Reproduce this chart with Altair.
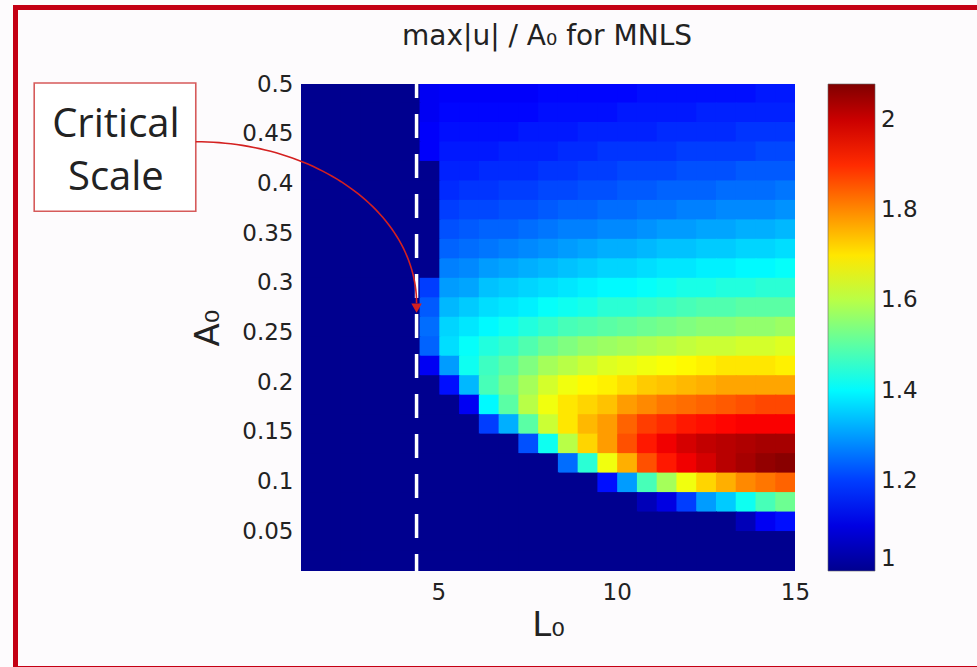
import altair as alt
import pandas as pd
import numpy as np

# ---------------- data ----------------
# cell edges of the heat map
L0_edges = [1.15, 1.704, 2.258, 2.812, 3.366, 3.92, 4.474, 5.028, 5.582, 6.136,
            6.69, 7.244, 7.798, 8.352, 8.906, 9.46, 10.014, 10.568, 11.122, 11.676,
            12.23, 12.784, 13.338, 13.892, 14.446, 15.0]
A0_edges = [0.5, 0.4804, 0.4608, 0.4412, 0.4216, 0.402, 0.3824, 0.3628, 0.3432, 0.3236,
            0.304, 0.2844, 0.2648, 0.2452, 0.2256, 0.206, 0.1864, 0.1668, 0.1472, 0.1276,
            0.108, 0.0884, 0.0688, 0.0492, 0.0296, 0.01]

# max|u|/A0, rows from top (A0 = 0.5) to bottom (A0 = 0.01); first 6 columns are 1
left = [1.0] * 6
values = [
    left + [1.12, 1.13, 1.13, 1.13, 1.13, 1.13, 1.14, 1.14, 1.14, 1.14, 1.14, 1.15, 1.15, 1.15, 1.15, 1.15, 1.15, 1.16, 1.16],
    left + [1.12, 1.14, 1.14, 1.14, 1.14, 1.14, 1.15, 1.15, 1.15, 1.15, 1.16, 1.16, 1.16, 1.16, 1.17, 1.17, 1.17, 1.17, 1.17],
    left + [1.13, 1.15, 1.15, 1.15, 1.15, 1.16, 1.16, 1.16, 1.17, 1.17, 1.17, 1.17, 1.18, 1.18, 1.18, 1.18, 1.19, 1.19, 1.19],
    left + [1.13, 1.16, 1.16, 1.16, 1.17, 1.17, 1.17, 1.18, 1.18, 1.19, 1.19, 1.19, 1.19, 1.20, 1.20, 1.20, 1.20, 1.21, 1.21],
    left + [1.00, 1.17, 1.17, 1.18, 1.18, 1.18, 1.19, 1.19, 1.20, 1.20, 1.21, 1.21, 1.21, 1.22, 1.22, 1.22, 1.23, 1.23, 1.23],
    left + [1.00, 1.18, 1.19, 1.19, 1.20, 1.20, 1.21, 1.21, 1.22, 1.22, 1.23, 1.23, 1.24, 1.24, 1.24, 1.25, 1.25, 1.25, 1.26],
    left + [1.00, 1.20, 1.21, 1.21, 1.22, 1.22, 1.23, 1.24, 1.24, 1.25, 1.25, 1.26, 1.26, 1.27, 1.27, 1.28, 1.28, 1.28, 1.29],
    left + [1.00, 1.22, 1.23, 1.24, 1.24, 1.25, 1.26, 1.27, 1.27, 1.28, 1.28, 1.29, 1.30, 1.30, 1.31, 1.31, 1.32, 1.32, 1.33],
    left + [1.00, 1.24, 1.25, 1.26, 1.27, 1.28, 1.29, 1.30, 1.31, 1.32, 1.32, 1.33, 1.34, 1.34, 1.35, 1.35, 1.36, 1.36, 1.37],
    left + [1.00, 1.27, 1.28, 1.30, 1.31, 1.32, 1.33, 1.34, 1.35, 1.36, 1.36, 1.37, 1.38, 1.38, 1.39, 1.39, 1.40, 1.40, 1.41],
    left + [1.20, 1.30, 1.31, 1.34, 1.35, 1.36, 1.37, 1.38, 1.39, 1.40, 1.40, 1.41, 1.42, 1.43, 1.43, 1.44, 1.44, 1.45, 1.45],
    left + [1.23, 1.33, 1.35, 1.37, 1.38, 1.39, 1.41, 1.42, 1.43, 1.45, 1.45, 1.46, 1.47, 1.48, 1.49, 1.49, 1.50, 1.50, 1.50],
    left + [1.25, 1.36, 1.38, 1.40, 1.42, 1.44, 1.46, 1.48, 1.49, 1.50, 1.51, 1.52, 1.53, 1.54, 1.55, 1.55, 1.56, 1.56, 1.57],
    left + [1.24, 1.37, 1.41, 1.44, 1.46, 1.49, 1.52, 1.54, 1.56, 1.57, 1.58, 1.59, 1.60, 1.61, 1.62, 1.62, 1.63, 1.63, 1.64],
    left + [1.12, 1.30, 1.42, 1.47, 1.50, 1.54, 1.58, 1.60, 1.62, 1.64, 1.65, 1.66, 1.67, 1.68, 1.69, 1.70, 1.70, 1.70, 1.69],
    left + [1.00, 1.15, 1.33, 1.48, 1.53, 1.58, 1.63, 1.66, 1.68, 1.69, 1.71, 1.73, 1.74, 1.75, 1.76, 1.77, 1.77, 1.77, 1.77],
    left + [1.00, 1.00, 1.12, 1.40, 1.50, 1.60, 1.66, 1.70, 1.72, 1.74, 1.78, 1.80, 1.82, 1.83, 1.84, 1.85, 1.86, 1.87, 1.87],
    left + [1.00, 1.00, 1.00, 1.20, 1.32, 1.50, 1.62, 1.70, 1.75, 1.78, 1.84, 1.88, 1.90, 1.92, 1.93, 1.94, 1.95, 1.95, 1.95],
    left + [1.00, 1.00, 1.00, 1.00, 1.00, 1.22, 1.42, 1.60, 1.72, 1.78, 1.86, 1.92, 1.96, 1.99, 2.01, 2.02, 2.03, 2.04, 2.04],
    left + [1.00, 1.00, 1.00, 1.00, 1.00, 1.00, 1.00, 1.25, 1.45, 1.66, 1.76, 1.86, 1.92, 1.96, 1.99, 2.02, 2.04, 2.06, 2.07],
    left + [1.00, 1.00, 1.00, 1.00, 1.00, 1.00, 1.00, 1.00, 1.00, 1.15, 1.30, 1.48, 1.58, 1.66, 1.72, 1.76, 1.80, 1.82, 1.84],
    left + [1.00, 1.00, 1.00, 1.00, 1.00, 1.00, 1.00, 1.00, 1.00, 1.00, 1.00, 1.05, 1.10, 1.20, 1.30, 1.35, 1.42, 1.48, 1.52],
    left + [1.00, 1.00, 1.00, 1.00, 1.00, 1.00, 1.00, 1.00, 1.00, 1.00, 1.00, 1.00, 1.00, 1.00, 1.00, 1.00, 1.05, 1.12, 1.15],
    left + [1.00] * 19,
    left + [1.00] * 19,
]

critical_L0 = 4.39
x_ticks = [5, 10, 15]
y_ticks = [0.05, 0.1, 0.15, 0.2, 0.25, 0.3, 0.35, 0.4, 0.45, 0.5]
cbar_ticks = [1, 1.2, 1.4, 1.6, 1.8, 2]
note_lines = ["Critical", "Scale"]
title_text = "max|u| / A₀ for MNLS"

# ---------------- tables ----------------
# each cell overlaps its right / upper neighbour by about a pixel so no seams show
ovx, ovy = 0.03, 0.001
n_cols = len(L0_edges) - 1
cells = []
for i, row in enumerate(values):
    for j, v in enumerate(row):
        cells.append({"x": L0_edges[j],
                      "x2": L0_edges[j + 1] + (ovx if j < n_cols - 1 else 0),
                      "y": A0_edges[i + 1],
                      "y2": A0_edges[i] + (ovy if i > 0 else 0), "v": v})
df = pd.DataFrame(cells)

FONT = "DejaVu Sans"
TXT = "#222222"

xscale = alt.Scale(domain=[1.15, 15], nice=False, zero=False)
yscale = alt.Scale(domain=[0.01, 0.5], nice=False, zero=False)
# MATLAB "jet"
cmin, cmax = 1.0, 2.08
span = cmax - cmin
jet_domain = [cmin, cmin + 0.125 * span, cmin + 0.375 * span, cmin + 0.625 * span,
              cmin + 0.875 * span, cmax]
jet_range = ["#00008f", "#0000ff", "#00ffff", "#ffff00", "#ff0000", "#800000"]
cscale = alt.Scale(domain=jet_domain, range=jet_range, interpolate="rgb")

heat = alt.Chart(df).mark_rect().encode(
    x=alt.X("x:Q", scale=xscale,
            axis=alt.Axis(values=x_ticks, title="L₀", labelFlush=False, ticks=False,
                          domain=False, grid=False, labelFontSize=23, labelFont=FONT,
                          labelColor=TXT, labelPadding=10, titleFont=FONT,
                          titleFontSize=34, titleFontWeight="normal", titleColor=TXT,
                          titlePadding=4, zindex=1)),
    x2="x2:Q",
    y=alt.Y("y:Q", scale=yscale,
            axis=alt.Axis(values=y_ticks, format="~g", title="A₀", ticks=False,
                          domain=False, grid=False, labelFontSize=23, labelFont=FONT,
                          labelColor=TXT, labelPadding=8, titleFont=FONT,
                          titleFontSize=34, titleFontWeight="normal", titleColor=TXT,
                          titlePadding=16, zindex=1)),
    y2="y2:Q",
    color=alt.Color("v:Q", scale=cscale,
                    legend=alt.Legend(type="gradient", title=None, orient="none",
                                      legendX=527, legendY=0,
                                      direction="vertical", gradientLength=487,
                                      gradientThickness=47, values=cbar_ticks,
                                      format="~g", labelFontSize=23, labelFont=FONT,
                                      labelColor=TXT, labelOffset=6,
                                      labelBaseline="middle",
                                      gradientStrokeColor="#666666",
                                      gradientStrokeWidth=0.6)),
)

# red page frame (decoration, pixel positions relative to the plot origin)
frame = alt.Chart(pd.DataFrame({"a": [0]})).mark_rect(
    fill=None, stroke="#c40014", strokeWidth=5
).encode(
    x=alt.value(-285.5), x2=alt.value(690), y=alt.value(-76.5), y2=alt.value(584.5)
)

title = alt.Chart(pd.DataFrame({"t": [title_text]})).mark_text(
    font=FONT, fontSize=28, color=TXT, align="center", baseline="alphabetic"
).encode(x=alt.value(246), y=alt.value(-39), text="t:N")

dash = alt.Chart(pd.DataFrame({"x": [critical_L0], "y": [0.5], "y2": [0.01]})).mark_rule(
    color="white", strokeWidth=3.5, strokeDash=[24, 16], strokeDashOffset=10
).encode(x=alt.X("x:Q", scale=xscale),
         y=alt.Y("y:Q", scale=yscale), y2="y2:Q")

# annotation box (placed in data coordinates, outside the plot on the left)
box_df = pd.DataFrame({"x": [-6.33], "x2": [-1.80], "y": [0.372], "y2": [0.501]})
box = alt.Chart(box_df).mark_rect(fill="white", stroke="#d65a5a", strokeWidth=1.6).encode(
    x=alt.X("x:Q", scale=xscale), x2="x2:Q",
    y=alt.Y("y:Q", scale=yscale), y2="y2:Q")

note_df = pd.DataFrame({"x": [-4.04, -4.04], "y": [0.4466, 0.3932], "t": note_lines})
note = alt.Chart(note_df).mark_text(font="Open Sans", fontSize=40, color=TXT,
                                    align="center", baseline="alphabetic").encode(
    x=alt.X("x:Q", scale=xscale),
    y=alt.Y("y:Q", scale=yscale), text="t:N")

# curved arrow: quarter ellipse from the box edge to the critical-scale line
x_start, y_start = -1.80, 0.4419
y_end = 0.2794
t = np.linspace(0, np.pi / 2, 60)
arc_df = pd.DataFrame({
    "x": x_start + (critical_L0 - x_start) * np.sin(t),
    "y": y_end + (y_start - y_end) * np.cos(t),
    "o": np.arange(len(t)),
})
arc = alt.Chart(arc_df).mark_line(color="#d42020", strokeWidth=1.6).encode(
    x=alt.X("x:Q", scale=xscale),
    y=alt.Y("y:Q", scale=yscale), order="o:Q")

head = alt.Chart(pd.DataFrame({"x": [critical_L0], "y": [0.2745]})).mark_point(
    shape="triangle-down", filled=True, color="#d42020", size=110, opacity=1
).encode(x=alt.X("x:Q", scale=xscale),
         y=alt.Y("y:Q", scale=yscale))

chart = alt.layer(heat, frame, title, dash, box, note, arc, head).properties(
    width=494, height=487,
    autosize=alt.AutoSizeParams(type="none"),
    padding={"left": 301, "top": 84, "right": 182, "bottom": 96},
    background="#fdfbfd",
).configure_view(stroke=None)

chart.save("out.html", embed_options={"renderer": "svg", "actions": False})
